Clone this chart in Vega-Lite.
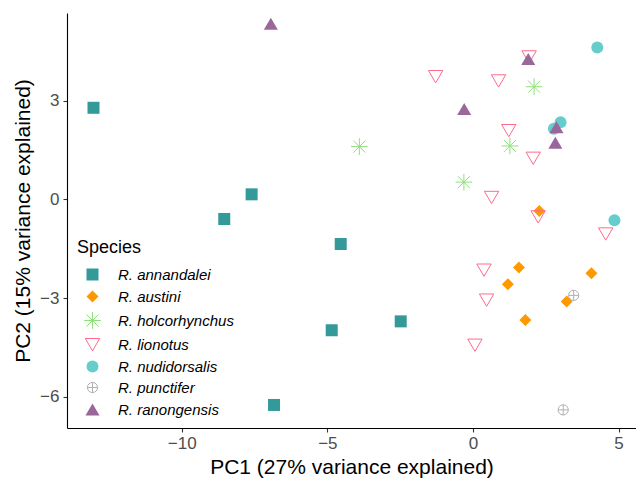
{
  "$schema": "https://vega.github.io/schema/vega-lite/v6.json",
  "width": 569,
  "height": 415,
  "autosize": {"type": "none"},
  "padding": {"left": 67, "top": 13, "right": 0, "bottom": 53},
  "background": "white",
  "config": {
    "view": {"stroke": null},
    "font": "Liberation Sans",
    "axis": {
      "grid": false,
      "domainColor": "black",
      "domainWidth": 1.1,
      "tickColor": "#333333",
      "tickWidth": 1.1,
      "tickSize": 4,
      "labelFontSize": 17,
      "labelColor": "#4D4D4D",
      "titleFontSize": 21,
      "titleFontWeight": "normal",
      "titleColor": "black"
    },
    "legend": {
      "titleFontSize": 18,
      "titleFontWeight": "normal",
      "titleColor": "black",
      "labelFontSize": 15,
      "labelFontStyle": "italic",
      "labelColor": "black",
      "symbolSize": 144,
      "symbolStrokeWidth": 1,
      "padding": 0
    }
  },
  "data": {
    "values": [
      {"Species": "R. annandalei", "PC1": -13.03, "PC2": 2.78},
      {"Species": "R. annandalei", "PC1": -7.6, "PC2": 0.15},
      {"Species": "R. annandalei", "PC1": -8.54, "PC2": -0.6},
      {"Species": "R. annandalei", "PC1": -4.54, "PC2": -1.36},
      {"Species": "R. annandalei", "PC1": -2.48, "PC2": -3.71},
      {"Species": "R. annandalei", "PC1": -4.85, "PC2": -3.98},
      {"Species": "R. annandalei", "PC1": -6.83, "PC2": -6.25},
      {"Species": "R. austini", "PC1": 2.28, "PC2": -0.36},
      {"Species": "R. austini", "PC1": 1.58, "PC2": -2.07},
      {"Species": "R. austini", "PC1": 1.2, "PC2": -2.58},
      {"Species": "R. austini", "PC1": 4.07, "PC2": -2.25},
      {"Species": "R. austini", "PC1": 3.22, "PC2": -3.11},
      {"Species": "R. austini", "PC1": 1.8, "PC2": -3.67},
      {"Species": "R. holcorhynchus", "PC1": 2.1, "PC2": 3.42},
      {"Species": "R. holcorhynchus", "PC1": 1.27, "PC2": 1.62},
      {"Species": "R. holcorhynchus", "PC1": -0.31, "PC2": 0.52},
      {"Species": "R. holcorhynchus", "PC1": -3.9, "PC2": 1.6},
      {"Species": "R. lionotus", "PC1": 1.93, "PC2": 4.33},
      {"Species": "R. lionotus", "PC1": -1.28, "PC2": 3.73},
      {"Species": "R. lionotus", "PC1": 0.88, "PC2": 3.6},
      {"Species": "R. lionotus", "PC1": 1.23, "PC2": 2.09},
      {"Species": "R. lionotus", "PC1": 2.07, "PC2": 1.25},
      {"Species": "R. lionotus", "PC1": 0.64, "PC2": 0.06},
      {"Species": "R. lionotus", "PC1": 2.24, "PC2": -0.53},
      {"Species": "R. lionotus", "PC1": 4.56, "PC2": -1.05},
      {"Species": "R. lionotus", "PC1": 0.38, "PC2": -2.15},
      {"Species": "R. lionotus", "PC1": 0.47, "PC2": -3.06},
      {"Species": "R. lionotus", "PC1": 0.07, "PC2": -4.43},
      {"Species": "R. nudidorsalis", "PC1": 4.27, "PC2": 4.61},
      {"Species": "R. nudidorsalis", "PC1": 3.01, "PC2": 2.34},
      {"Species": "R. nudidorsalis", "PC1": 2.78, "PC2": 2.14},
      {"Species": "R. nudidorsalis", "PC1": 4.86, "PC2": -0.64},
      {"Species": "R. punctifer", "PC1": 3.46, "PC2": -2.92},
      {"Species": "R. punctifer", "PC1": 3.1, "PC2": -6.4},
      {"Species": "R. ranongensis", "PC1": -6.94, "PC2": 5.33},
      {"Species": "R. ranongensis", "PC1": 1.9, "PC2": 4.26},
      {"Species": "R. ranongensis", "PC1": -0.3, "PC2": 2.74},
      {"Species": "R. ranongensis", "PC1": 2.87, "PC2": 2.19},
      {"Species": "R. ranongensis", "PC1": 2.83, "PC2": 1.72}
    ]
  },
  "mark": {"type": "point", "size": 144, "strokeWidth": 1, "opacity": 1},
  "encoding": {
    "x": {
      "field": "PC1",
      "type": "quantitative",
      "title": "PC1 (27% variance explained)",
      "scale": {"domain": [-13.94, 5.6], "nice": false, "zero": false},
      "axis": {"values": [-10, -5, 0, 5], "labelPadding": 3, "titlePadding": 5}
    },
    "y": {
      "field": "PC2",
      "type": "quantitative",
      "title": "PC2 (15% variance explained)",
      "scale": {"domain": [-6.95, 5.66], "nice": false, "zero": false},
      "axis": {"values": [-6, -3, 0, 3], "labelPadding": 4, "titlePadding": 6}
    },
    "shape": {
      "field": "Species",
      "type": "nominal",
      "title": "Species",
      "scale": {
        "domain": ["R. annandalei", "R. austini", "R. holcorhynchus", "R. lionotus", "R. nudidorsalis", "R. punctifer", "R. ranongensis"],
        "range": [
          "square",
          "diamond",
          "M-1.39,0L1.39,0M0,-1.39L0,1.39M-1,-1L1,1M-1,1L1,-1",
          "M-1.2,-1L1.2,-1L0,1.05Z",
          "circle",
          "M0.85,0C0.85,0.4695,0.4695,0.85,0,0.85C-0.4695,0.85,-0.85,0.4695,-0.85,0C-0.85,-0.4695,-0.4695,-0.85,0,-0.85C0.4695,-0.85,0.85,-0.4695,0.85,0ZM-0.85,0L0.85,0M0,-0.85L0,0.85",
          "M0,-1L1.17,1L-1.17,1Z"
        ]
      },
      "legend": {
        "orient": "none",
        "legendX": 10,
        "legendY": 226,
        "titlePadding": 10,
        "rowPadding": 5,
        "symbolOffset": 8,
        "labelOffset": 18
      }
    },
    "fill": {
      "field": "Species",
      "type": "nominal",
      "title": "Species",
      "scale": {
        "domain": ["R. annandalei", "R. austini", "R. holcorhynchus", "R. lionotus", "R. nudidorsalis", "R. punctifer", "R. ranongensis"],
        "range": ["#339999", "#FF9900", "transparent", "transparent", "#66CCCC", "transparent", "#9A679B"]
      }
    },
    "stroke": {
      "field": "Species",
      "type": "nominal",
      "title": "Species",
      "scale": {
        "domain": ["R. annandalei", "R. austini", "R. holcorhynchus", "R. lionotus", "R. nudidorsalis", "R. punctifer", "R. ranongensis"],
        "range": ["transparent", "transparent", "#8FE07A", "#FF6A8C", "transparent", "#B0B0B0", "transparent"]
      }
    }
  }
}
